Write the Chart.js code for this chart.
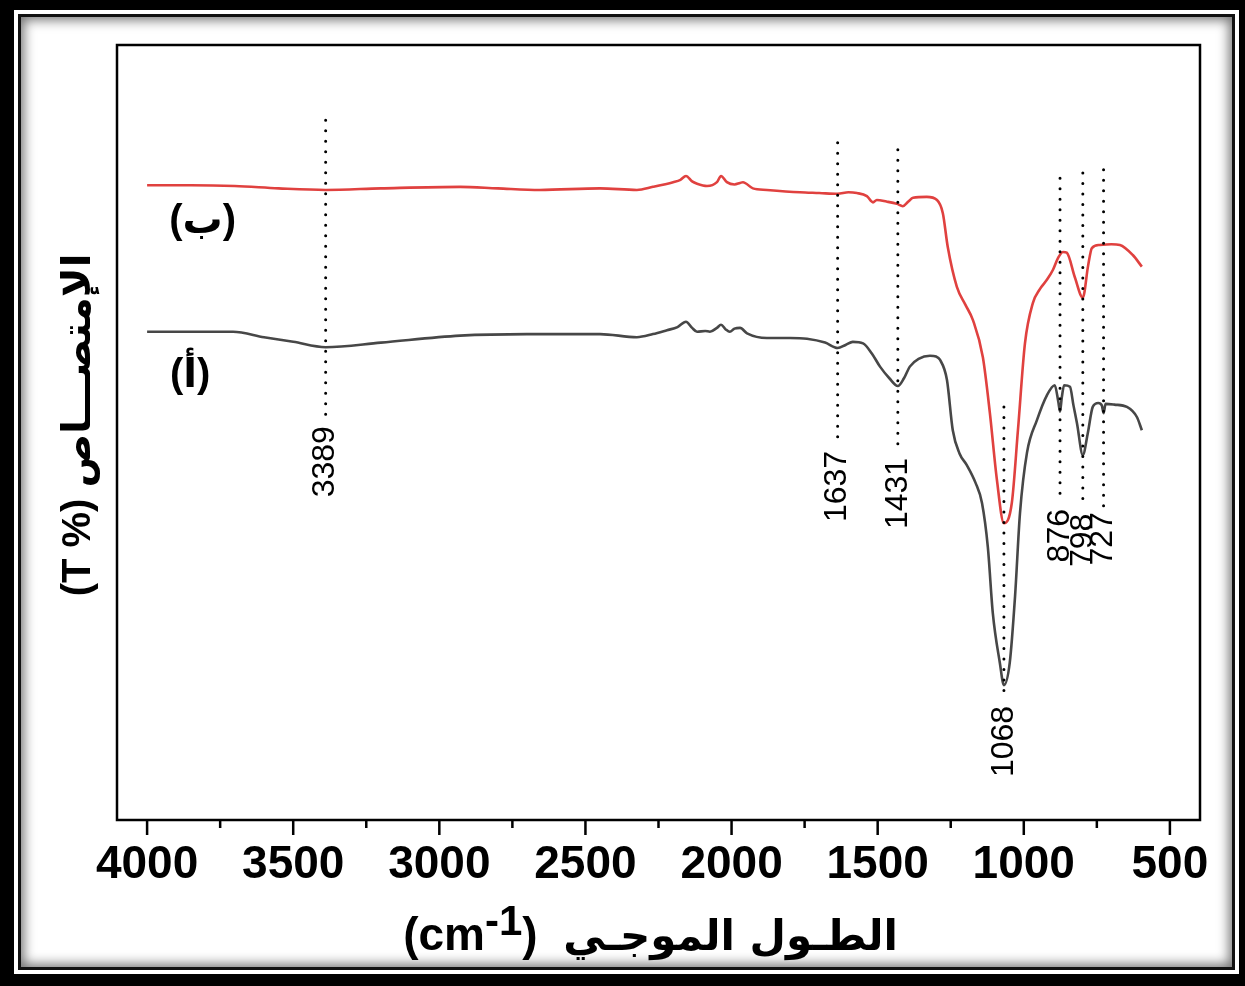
<!DOCTYPE html>
<html>
<head>
<meta charset="utf-8">
<script src="https://cdn.jsdelivr.net/npm/chart.js@4.4.1/dist/chart.umd.min.js"></script>
<style>
  html, body { margin: 0; padding: 0; background: #000; width: 1245px; height: 986px; overflow: hidden; }
  #outer { position: absolute; left: 14px; top: 10px; width: 1225px; height: 964px; background: #fff; }
  #inner { position: absolute; left: 4px; top: 4px; right: 4px; bottom: 4px; border: 3px solid #111;
           background: #fff; box-shadow: inset 0 0 12px 3px rgba(0,0,0,0.55); }
  #myChart { position: absolute; left: 0; top: 0; }
</style>
</head>
<body>
<div id="outer"><div id="inner"></div></div>
<canvas id="myChart" width="1245" height="986"></canvas>
<script>
const ctx = document.getElementById('myChart').getContext('2d')

// wavenumber (cm-1) and transmittance for sample (أ) - grey curve
const waveA = [4000, 3850, 3706, 3600, 3500, 3389, 3200, 2929, 2700, 2450, 2324, 2269, 2221, 2185, 2156, 2135,
  2118, 2090, 2074, 2050, 2036, 2020, 2006, 1990, 1971, 1947, 1879, 1800, 1742, 1680, 1637, 1610, 1585, 1550,
  1520, 1492, 1460, 1431, 1410, 1390, 1360, 1321, 1300, 1287, 1263, 1243, 1220, 1195, 1165, 1143, 1123, 1106,
  1082, 1068, 1048, 1030, 1013, 989, 955, 921, 894, 882, 876, 870, 862, 842, 830, 818, 798, 781, 764, 745,
  733, 727, 720, 690, 647, 613, 596]
const transA = [63.0, 63.0, 63.0, 62.3, 61.7, 61.0, 61.6, 62.5, 62.7, 62.7, 62.3, 62.7, 63.2, 63.6, 64.3, 63.5,
  63.0, 63.1, 63.0, 63.5, 63.9, 63.3, 63.0, 63.4, 63.5, 62.8, 62.2, 62.2, 62.1, 61.6, 60.9, 61.3, 61.7, 61.5,
  60.2, 58.5, 57.0, 56.0, 57.0, 58.5, 59.5, 59.9, 59.8, 59.4, 56.8, 50.3, 47.3, 45.8, 43.5, 40.9, 35.2, 26.7,
  20.3, 17.4, 20.3, 28.8, 39.6, 47.4, 51.6, 54.8, 56.1, 54.0, 52.7, 54.5, 56.1, 55.9, 53.5, 51.2, 47.1, 49.9, 53.3, 53.8,
  53.5, 52.5, 53.7, 53.6, 53.3, 52.0, 50.3]

// sample (ب) - red curve
const waveB = [4000, 3850, 3700, 3550, 3389, 3200, 2929, 2800, 2656, 2450, 2324, 2269, 2200, 2175, 2156, 2135,
  2118, 2084, 2050, 2036, 2016, 1990, 1971, 1961, 1927, 1879, 1766, 1700, 1637, 1600, 1571, 1537, 1516, 1503,
  1470, 1434, 1414, 1395, 1379, 1332, 1297, 1277, 1260, 1229, 1200, 1174, 1140, 1116, 1092, 1068, 1041, 1020,
  996, 969, 945, 921, 900, 883, 866, 853, 825, 798, 780, 767, 740, 700, 671, 627, 596]
const transB = [81.9, 81.9, 81.8, 81.5, 81.3, 81.5, 81.7, 81.5, 81.3, 81.5, 81.3, 81.7, 82.3, 82.6, 83.1, 82.4,
  82.1, 81.8, 82.3, 83.1, 82.3, 82.0, 82.2, 82.3, 81.5, 81.3, 81.0, 80.9, 80.8, 81.0, 80.9, 80.5, 79.7, 80.0,
  79.8, 79.5, 79.2, 79.8, 80.3, 80.4, 80.0, 78.3, 73.9, 68.8, 66.5, 64.5, 59.7, 52.5, 43.9, 38.3, 40.9, 50.3,
  61.5, 66.7, 68.5, 69.7, 71.0, 72.5, 73.3, 73.2, 70.0, 67.4, 71.5, 73.8, 74.2, 74.3, 74.2, 72.9, 71.4]

// marked peaks: dotted guide from top to bottom, label under it
const peakWavenumbers = [3389, 1637, 1431, 1068, 876, 798, 727]
const peakLabels = ['3389', '1637', '1431', '1068', '876', '798', '727']
const peakLineTop = [90.3, 87.4, 86.5, 53.3, 82.8, 83.5, 83.9]
const peakLineBottom = [51.6, 48.4, 47.5, 15.5, 40.9, 40.3, 40.5]

const xTickValues = [4000, 3500, 3000, 2500, 2000, 1500, 1000, 500]
const xMinorTicks = [3750, 3250, 2750, 2250, 1750, 1250, 750]

const curveNames = ['(أ)', '(ب)']
const curveNamePos = [[3853, 57.3], [3810, 77.2]]

const xTitleArabic = 'الطـول الموجـي'
const yTitleArabic = 'الإمتصـــاص'

const toPoints = (xs, ys) => xs.map((v, i) => ({ x: v, y: ys[i] }))

const guideSets = peakWavenumbers.map((w, i) => ({
  data: [{ x: w, y: peakLineTop[i] }, { x: w, y: peakLineBottom[i] }],
  borderColor: '#000',
  borderWidth: 3,
  borderDash: [0, 10.5],
  borderCapStyle: 'round',
  pointRadius: 0,
  fill: false
}))

const data = {
  datasets: [
    ...guideSets,
    {
      label: 'ب',
      data: toPoints(waveB, transB),
      borderColor: '#e0413f',
      borderWidth: 2.6,
      pointRadius: 0,
      cubicInterpolationMode: 'monotone'
    },
    {
      label: 'أ',
      data: toPoints(waveA, transA),
      borderColor: '#474747',
      borderWidth: 2.6,
      pointRadius: 0,
      cubicInterpolationMode: 'monotone'
    }
  ]
}

function drawPieces(c, pieces, cx, baseY) {
  let total = 0
  pieces.forEach(p => { c.font = p.font; p.w = c.measureText(p.text).width; total += p.w })
  let px = cx - total / 2
  c.textAlign = 'left'
  c.textBaseline = 'alphabetic'
  pieces.forEach(p => {
    c.font = p.font
    c.fillText(p.text, px, baseY + (p.dy || 0))
    px += p.w
  })
}

const decor = {
  id: 'decor',
  afterDatasetsDraw(chart) {
    const { ctx: c, chartArea: a, scales: { x, y } } = chart
    c.save()
    c.strokeStyle = '#000'
    c.fillStyle = '#000'
    c.lineWidth = 2.5
    c.strokeRect(a.left, a.top, a.right - a.left, a.bottom - a.top)

    c.beginPath()
    xTickValues.forEach(v => {
      const px = x.getPixelForValue(v)
      c.moveTo(px, a.bottom); c.lineTo(px, a.bottom + 15)
    })
    xMinorTicks.forEach(v => {
      const px = x.getPixelForValue(v)
      c.moveTo(px, a.bottom); c.lineTo(px, a.bottom + 8)
    })
    c.stroke()

    // peak numbers, read bottom to top
    c.font = '32px "Liberation Sans", Arial, sans-serif'
    c.textAlign = 'right'
    c.textBaseline = 'middle'
    peakWavenumbers.forEach((w, i) => {
      const px = x.getPixelForValue(w)
      const py = y.getPixelForValue(peakLineBottom[i]) + 6
      c.save()
      c.translate(px, py)
      c.rotate(-Math.PI / 2)
      c.fillText(peakLabels[i], 0, 0)
      c.restore()
    })

    // curve names
    c.font = 'bold 40px "Liberation Sans", "DejaVu Sans", sans-serif'
    c.textAlign = 'center'
    curveNames.forEach((t, i) => {
      c.fillText(t, x.getPixelForValue(curveNamePos[i][0]), y.getPixelForValue(curveNamePos[i][1]))
    })

    // x title
    const latin = 'bold 46px "Liberation Sans", Arial, sans-serif'
    const arab = 'bold 42px "DejaVu Sans", sans-serif'
    drawPieces(c, [
      { text: '(cm', font: latin },
      { text: '-1', font: 'bold 42px "Liberation Sans", Arial, sans-serif', dy: -15 },
      { text: ')', font: latin },
      { text: '  ', font: latin },
      { text: xTitleArabic, font: arab }
    ], (a.left + a.right) / 2 - 8, 950)

    // y title
    c.save()
    c.translate(90, 425)
    c.rotate(-Math.PI / 2)
    drawPieces(c, [
      { text: '(T %)', font: 'bold 40px "Liberation Sans", Arial, sans-serif' },
      { text: ' ', font: 'bold 40px "Liberation Sans", Arial, sans-serif' },
      { text: yTitleArabic, font: 'bold 40px "DejaVu Sans", sans-serif' }
    ], 0, 0)
    c.restore()

    c.restore()
  }
}

const config = {
  type: 'line',
  data,
  options: {
    responsive: false,
    animation: false,
    layout: { padding: { top: 45, right: 45, left: 0, bottom: 0 } },
    plugins: { legend: { display: false }, tooltip: { enabled: false } },
    scales: {
      x: {
        type: 'linear',
        reverse: true,
        min: 397,
        max: 4103,
        grid: { display: false, drawTicks: false },
        border: { display: false },
        afterBuildTicks: scale => { scale.ticks = xTickValues.map(v => ({ value: v })) },
        afterFit: scale => { scale.height = 166 },
        ticks: {
          autoSkip: false,
          maxRotation: 0,
          padding: 18,
          color: '#000',
          font: { family: '"Liberation Sans", Arial, sans-serif', size: 46, weight: 'bold' },
          callback: value => String(value)
        }
      },
      y: {
        min: 0,
        max: 100,
        grid: { display: false },
        border: { display: false },
        ticks: { display: false },
        afterFit: scale => { scale.width = 117 }
      }
    }
  },
  plugins: [decor]
}

const myChart = new Chart(ctx, config)
</script>
</body>
</html>
